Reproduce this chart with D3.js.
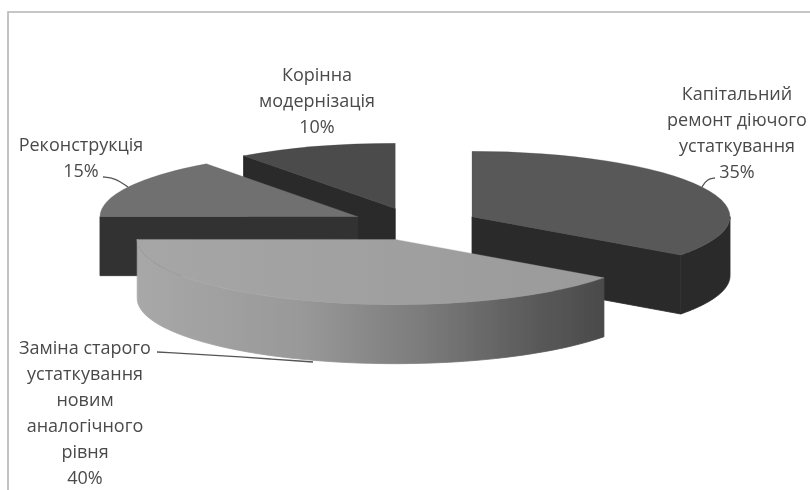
<!DOCTYPE html>
<html>
<head>
<meta charset="utf-8">
<script src="https://cdn.jsdelivr.net/npm/d3@7"></script>
<style>
  html, body { margin: 0; padding: 0; background: #fff; }
  svg { display: block; }
  text { font-family: "Open Sans", sans-serif; font-size: 18px; fill: #4a4a4a; text-anchor: middle; }
</style>
</head>
<body>
<svg id="chart" width="810" height="490"></svg>
<script>
'use strict';

// data
const categories = ['Капітальний ремонт діючого устаткування', 'Заміна старого устаткування новим аналогічного рівня', 'Реконструкція', 'Корінна модернізація'];
const shares = [35, 40, 15, 10];
const labelLines = [
  ['Капітальний', 'ремонт діючого', 'устаткування', '35%'],
  ['Заміна старого', 'устаткування', 'новим', 'аналогічного', 'рівня', '40%'],
  ['Реконструкція', '15%'],
  ['Корінна', 'модернізація', '10%'],
];

// layout
const W = 810, H = 490;
const CX = 415, CY = 224;
const RX = 258, TILT = 0.253;
const EXPLODE = 64, DEPTH = 59;
const topColors = ['#585858', 'url(#topLight)', '#6f6f6f', '#4b4b4b'];
const sideColors = ['#2b2b2b', 'url(#rimLight)', '#333333', '#292929'];
const labelPos = [[737, 100], [85, 354], [81, 151], [317, 81]];
const LINE_H = 26;
const leaders = [
  [[715, 178], [707, 179], [702, 187]],
  [[157, 352], [230, 356], [313, 362]],
  [[103, 177], [115, 178], [128, 187]],
];

const svg = d3.select('#chart').attr('viewBox', [0, 0, W, H]);

// soft look of the scanned original
const defs = svg.append('defs');
defs.append('filter').attr('id', 'soft')
  .attr('x', '-5%').attr('y', '-5%').attr('width', '110%').attr('height', '110%')
  .append('feGaussianBlur').attr('stdDeviation', 0.6);

function gradient(id, x1, x2, stops) {
  defs.append('linearGradient').attr('id', id)
    .attr('gradientUnits', 'userSpaceOnUse')
    .attr('x1', x1).attr('x2', x2).attr('y1', 0).attr('y2', 0)
    .selectAll('stop').data(stops).join('stop')
    .attr('offset', d => d[0]).attr('stop-color', d => d[1]);
}
gradient('rimLight', 136, 604, [[0, '#a8a8a8'], [0.35, '#999999'], [0.6, '#7d7d7d'], [0.85, '#5a5a5a'], [1, '#4a4a4a']]);
defs.append('linearGradient').attr('id', 'topLight')
  .selectAll('stop').data([[0, '#a6a6a6'], [1, '#9a9a9a']]).join('stop')
  .attr('offset', d => d[0]).attr('stop-color', d => d[1]);

// frame
const frame = svg.append('g').attr('filter', 'url(#soft)');
frame.append('path')
  .attr('d', `M8,${H}V12H${W}`)
  .attr('fill', 'none').attr('stroke', '#b5b5b5').attr('stroke-width', 1.6);

// pie
const pie = d3.pie().sort(null).startAngle(0).endAngle(2 * Math.PI);
const arc = d3.arc().innerRadius(0).outerRadius(RX);
const line = d3.line();

const slices = pie(shares).map((d, i) => {
  const mid = (d.startAngle + d.endAngle) / 2;
  return {
    ...d, i,
    cx: CX + EXPLODE * Math.sin(mid),
    cy: CY - EXPLODE * Math.cos(mid) * TILT,
  };
});

const onRim = (s, a) => [s.cx + RX * Math.sin(a), s.cy - RX * Math.cos(a) * TILT];

// front side of the outer edge, only for the part facing the viewer
function rimPath(s) {
  const a0 = Math.max(s.startAngle, Math.PI / 2);
  const a1 = Math.min(s.endAngle, 3 * Math.PI / 2);
  if (a1 <= a0) return null;
  const steps = d3.range(0, 61).map(t => a0 + (a1 - a0) * t / 60);
  const upper = steps.map(a => onRim(s, a));
  const lower = steps.slice().reverse().map(a => {
    const p = onRim(s, a);
    return [p[0], p[1] + DEPTH];
  });
  return line(upper.concat(lower)) + 'Z';
}

// flat cut faces of the slice, same test as the rim
function cutPaths(s) {
  const out = [];
  const face = a => {
    const p = onRim(s, a);
    return line([[s.cx, s.cy], p, [p[0], p[1] + DEPTH], [s.cx, s.cy + DEPTH]]) + 'Z';
  };
  if (Math.sin(s.startAngle) < -1e-6) out.push(face(s.startAngle));
  if (Math.sin(s.endAngle) > 1e-6) out.push(face(s.endAngle));
  return out;
}

const g = svg.append('g').attr('filter', 'url(#soft)');
const sliceG = g.selectAll('g.slice')
  .data(slices.slice().sort((a, b) => a.cy - b.cy))
  .join('g')
  .attr('class', 'slice');

sliceG.each(function (s) {
  const el = d3.select(this);
  el.append('title').text(categories[s.i]);
  cutPaths(s).forEach(p => {
    el.append('path').attr('d', p)
      .attr('fill', sideColors[s.i]).attr('stroke', sideColors[s.i]).attr('stroke-width', 0.8);
  });
  const rim = rimPath(s);
  if (rim) {
    // thin stroke closes the seams between the rim, the cut and the top
    el.append('path').attr('d', rim)
      .attr('fill', sideColors[s.i]).attr('stroke', sideColors[s.i]).attr('stroke-width', 0.8);
  }
  el.append('path')
    .attr('d', arc(s))
    .attr('transform', `translate(${s.cx},${s.cy}) scale(1,${TILT})`)
    .attr('fill', topColors[s.i])
    .attr('stroke', topColors[s.i])
    .attr('stroke-width', 0.5);
});

// leader lines
const curve = d3.line().curve(d3.curveBasis);
const labels = svg.append('g').attr('filter', 'url(#soft)');
labels.selectAll('path.leader')
  .data(leaders)
  .join('path')
  .attr('class', 'leader')
  .attr('d', d => curve(d))
  .attr('fill', 'none')
  .attr('stroke', '#555')
  .attr('stroke-width', 1.3);

// labels
labelLines.forEach((lines, i) => {
  labels.append('text')
    .selectAll('tspan').data(lines).join('tspan')
    .attr('x', labelPos[i][0])
    .attr('y', (d, j) => labelPos[i][1] + j * LINE_H)
    .text(d => d);
});
</script>
</body>
</html>
